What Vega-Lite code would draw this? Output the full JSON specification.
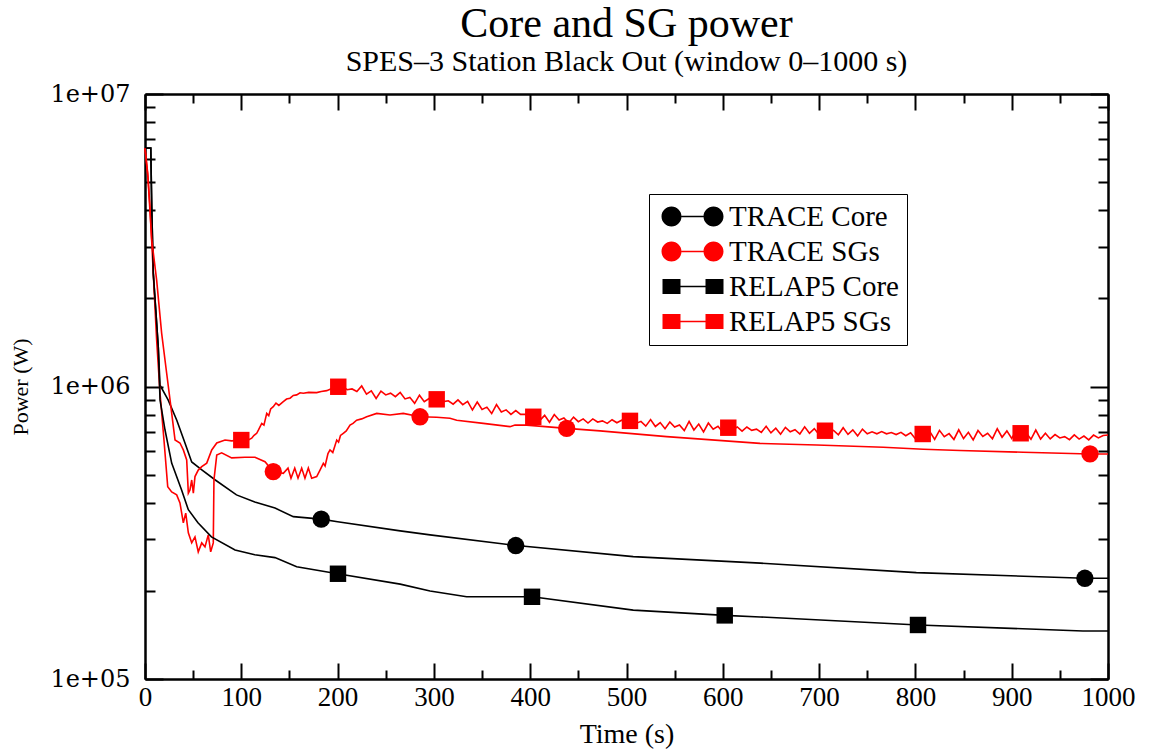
{
  "$schema": "https://vega.github.io/schema/vega-lite/v6.json",
  "width": 963,
  "height": 585,
  "autosize": {"type": "none"},
  "padding": {"left": 145, "top": 94, "right": 41, "bottom": 72},
  "background": "white",
  "title": {
    "text": "Core and SG power",
    "subtitle": "SPES–3 Station Black Out (window  0–1000 s)",
    "font": "Liberation Serif",
    "fontSize": 42,
    "fontWeight": "normal",
    "color": "black",
    "subtitleFont": "Liberation Serif",
    "subtitleFontSize": 30,
    "subtitleColor": "black",
    "subtitlePadding": 1,
    "anchor": "middle",
    "offset": 4
  },
  "config": {
    "view": {"stroke": null},
    "axis": {
      "domainColor": "black",
      "domainWidth": 2,
      "tickColor": "black",
      "tickWidth": 2,
      "grid": false,
      "labelFlush": false,
      "labelOverlap": false,
      "labelColor": "black",
      "titleColor": "black",
      "titleFontWeight": "normal"
    }
  },
  "datasets": {
    "trace_lines": [
      {"s": "TRACE Core", "t": 0, "p": 6530000},
      {"s": "TRACE Core", "t": 6, "p": 6530000},
      {"s": "TRACE Core", "t": 7, "p": 4110000},
      {"s": "TRACE Core", "t": 8.6, "p": 2440000},
      {"s": "TRACE Core", "t": 13.8, "p": 1360000},
      {"s": "TRACE Core", "t": 15.6, "p": 1010000},
      {"s": "TRACE Core", "t": 24, "p": 900000},
      {"s": "TRACE Core", "t": 33, "p": 767000},
      {"s": "TRACE Core", "t": 41.5, "p": 641000},
      {"s": "TRACE Core", "t": 48.5, "p": 552000},
      {"s": "TRACE Core", "t": 59, "p": 519000},
      {"s": "TRACE Core", "t": 73, "p": 479000},
      {"s": "TRACE Core", "t": 95, "p": 426000},
      {"s": "TRACE Core", "t": 114, "p": 403000},
      {"s": "TRACE Core", "t": 135, "p": 384000},
      {"s": "TRACE Core", "t": 154, "p": 359000},
      {"s": "TRACE Core", "t": 183, "p": 352000},
      {"s": "TRACE Core", "t": 200, "p": 345000},
      {"s": "TRACE Core", "t": 265, "p": 321000},
      {"s": "TRACE Core", "t": 296, "p": 311000},
      {"s": "TRACE Core", "t": 386, "p": 286000},
      {"s": "TRACE Core", "t": 507, "p": 262000},
      {"s": "TRACE Core", "t": 639, "p": 249000},
      {"s": "TRACE Core", "t": 801, "p": 231000},
      {"s": "TRACE Core", "t": 976, "p": 221000},
      {"s": "TRACE Core", "t": 1000, "p": 221000},
      {"s": "TRACE SGs", "t": 0, "p": 6530000},
      {"s": "TRACE SGs", "t": 2.8, "p": 5370000},
      {"s": "TRACE SGs", "t": 5.2, "p": 4110000},
      {"s": "TRACE SGs", "t": 8.6, "p": 2440000},
      {"s": "TRACE SGs", "t": 12.1, "p": 1440000},
      {"s": "TRACE SGs", "t": 15.6, "p": 950000},
      {"s": "TRACE SGs", "t": 19.7, "p": 656000},
      {"s": "TRACE SGs", "t": 23.6, "p": 454000},
      {"s": "TRACE SGs", "t": 27.7, "p": 436000},
      {"s": "TRACE SGs", "t": 32.9, "p": 426000},
      {"s": "TRACE SGs", "t": 36.3, "p": 400000},
      {"s": "TRACE SGs", "t": 39.8, "p": 342000},
      {"s": "TRACE SGs", "t": 42.3, "p": 369000},
      {"s": "TRACE SGs", "t": 45, "p": 316000},
      {"s": "TRACE SGs", "t": 48.5, "p": 292000},
      {"s": "TRACE SGs", "t": 51.9, "p": 306000},
      {"s": "TRACE SGs", "t": 55.3, "p": 272000},
      {"s": "TRACE SGs", "t": 58.9, "p": 292000},
      {"s": "TRACE SGs", "t": 62.3, "p": 283000},
      {"s": "TRACE SGs", "t": 65.7, "p": 311000},
      {"s": "TRACE SGs", "t": 68.2, "p": 272000},
      {"s": "TRACE SGs", "t": 70.9, "p": 292000},
      {"s": "TRACE SGs", "t": 71.6, "p": 479000},
      {"s": "TRACE SGs", "t": 74.5, "p": 583000},
      {"s": "TRACE SGs", "t": 79.6, "p": 593000},
      {"s": "TRACE SGs", "t": 90, "p": 570000},
      {"s": "TRACE SGs", "t": 103.8, "p": 573000},
      {"s": "TRACE SGs", "t": 114.2, "p": 573000},
      {"s": "TRACE SGs", "t": 124.6, "p": 553000},
      {"s": "TRACE SGs", "t": 133.2, "p": 512000},
      {"s": "TRACE SGs", "t": 143.6, "p": 505000},
      {"s": "TRACE SGs", "t": 148.5, "p": 526000},
      {"s": "TRACE SGs", "t": 151.6, "p": 486000},
      {"s": "TRACE SGs", "t": 155.5, "p": 526000},
      {"s": "TRACE SGs", "t": 158.9, "p": 486000},
      {"s": "TRACE SGs", "t": 162.7, "p": 526000},
      {"s": "TRACE SGs", "t": 166.1, "p": 486000},
      {"s": "TRACE SGs", "t": 169.6, "p": 526000},
      {"s": "TRACE SGs", "t": 173.1, "p": 486000},
      {"s": "TRACE SGs", "t": 178.3, "p": 492000},
      {"s": "TRACE SGs", "t": 182, "p": 520000},
      {"s": "TRACE SGs", "t": 185.2, "p": 546000},
      {"s": "TRACE SGs", "t": 187, "p": 535000},
      {"s": "TRACE SGs", "t": 190, "p": 590000},
      {"s": "TRACE SGs", "t": 192.1, "p": 607000},
      {"s": "TRACE SGs", "t": 195, "p": 595000},
      {"s": "TRACE SGs", "t": 199.1, "p": 656000},
      {"s": "TRACE SGs", "t": 201, "p": 645000},
      {"s": "TRACE SGs", "t": 203, "p": 680000},
      {"s": "TRACE SGs", "t": 205.9, "p": 692000},
      {"s": "TRACE SGs", "t": 209, "p": 705000},
      {"s": "TRACE SGs", "t": 212.9, "p": 738000},
      {"s": "TRACE SGs", "t": 216, "p": 748000},
      {"s": "TRACE SGs", "t": 219.8, "p": 767000},
      {"s": "TRACE SGs", "t": 225, "p": 775000},
      {"s": "TRACE SGs", "t": 230.2, "p": 788000},
      {"s": "TRACE SGs", "t": 240.6, "p": 809000},
      {"s": "TRACE SGs", "t": 254.4, "p": 799000},
      {"s": "TRACE SGs", "t": 268.2, "p": 809000},
      {"s": "TRACE SGs", "t": 285.6, "p": 788000},
      {"s": "TRACE SGs", "t": 302.9, "p": 785000},
      {"s": "TRACE SGs", "t": 316.7, "p": 779000},
      {"s": "TRACE SGs", "t": 323.7, "p": 767000},
      {"s": "TRACE SGs", "t": 351.3, "p": 748000},
      {"s": "TRACE SGs", "t": 379, "p": 729000},
      {"s": "TRACE SGs", "t": 384.2, "p": 738000},
      {"s": "TRACE SGs", "t": 396.4, "p": 738000},
      {"s": "TRACE SGs", "t": 437.9, "p": 719000},
      {"s": "TRACE SGs", "t": 472.5, "p": 705000},
      {"s": "TRACE SGs", "t": 541.7, "p": 674000},
      {"s": "TRACE SGs", "t": 638.6, "p": 639000},
      {"s": "TRACE SGs", "t": 697.5, "p": 631000},
      {"s": "TRACE SGs", "t": 766.7, "p": 620000},
      {"s": "TRACE SGs", "t": 808.2, "p": 610000},
      {"s": "TRACE SGs", "t": 846.3, "p": 604000},
      {"s": "TRACE SGs", "t": 912, "p": 596000},
      {"s": "TRACE SGs", "t": 981.3, "p": 588000},
      {"s": "TRACE SGs", "t": 1000, "p": 588000}
    ],
    "relap_lines": [
      {"s": "RELAP5 Core", "t": 0, "p": 6530000},
      {"s": "RELAP5 Core", "t": 6, "p": 6530000},
      {"s": "RELAP5 Core", "t": 7, "p": 4110000},
      {"s": "RELAP5 Core", "t": 8.6, "p": 2440000},
      {"s": "RELAP5 Core", "t": 13.8, "p": 1360000},
      {"s": "RELAP5 Core", "t": 15.6, "p": 900000},
      {"s": "RELAP5 Core", "t": 20.8, "p": 710000},
      {"s": "RELAP5 Core", "t": 27.7, "p": 547000},
      {"s": "RELAP5 Core", "t": 38, "p": 443000},
      {"s": "RELAP5 Core", "t": 45, "p": 379000},
      {"s": "RELAP5 Core", "t": 55, "p": 342000},
      {"s": "RELAP5 Core", "t": 69, "p": 306000},
      {"s": "RELAP5 Core", "t": 93.5, "p": 276000},
      {"s": "RELAP5 Core", "t": 114, "p": 266000},
      {"s": "RELAP5 Core", "t": 135, "p": 260000},
      {"s": "RELAP5 Core", "t": 157.5, "p": 242000},
      {"s": "RELAP5 Core", "t": 200, "p": 229000},
      {"s": "RELAP5 Core", "t": 265, "p": 211000},
      {"s": "RELAP5 Core", "t": 296, "p": 200000},
      {"s": "RELAP5 Core", "t": 334, "p": 191000},
      {"s": "RELAP5 Core", "t": 402, "p": 191000},
      {"s": "RELAP5 Core", "t": 507, "p": 172000},
      {"s": "RELAP5 Core", "t": 602, "p": 165000},
      {"s": "RELAP5 Core", "t": 639, "p": 163000},
      {"s": "RELAP5 Core", "t": 803, "p": 153000},
      {"s": "RELAP5 Core", "t": 974, "p": 146000},
      {"s": "RELAP5 Core", "t": 1000, "p": 146000},
      {"s": "RELAP5 SGs", "t": 0, "p": 6530000},
      {"s": "RELAP5 SGs", "t": 3, "p": 5200000},
      {"s": "RELAP5 SGs", "t": 7, "p": 3170000},
      {"s": "RELAP5 SGs", "t": 12.1, "p": 2310000},
      {"s": "RELAP5 SGs", "t": 17.3, "p": 1520000},
      {"s": "RELAP5 SGs", "t": 22.5, "p": 1110000},
      {"s": "RELAP5 SGs", "t": 26, "p": 900000},
      {"s": "RELAP5 SGs", "t": 27.7, "p": 811000},
      {"s": "RELAP5 SGs", "t": 31.2, "p": 656000},
      {"s": "RELAP5 SGs", "t": 36.3, "p": 641000},
      {"s": "RELAP5 SGs", "t": 39.8, "p": 607000},
      {"s": "RELAP5 SGs", "t": 43.3, "p": 561000},
      {"s": "RELAP5 SGs", "t": 45, "p": 432000},
      {"s": "RELAP5 SGs", "t": 46.7, "p": 443000},
      {"s": "RELAP5 SGs", "t": 48.5, "p": 479000},
      {"s": "RELAP5 SGs", "t": 50.2, "p": 432000},
      {"s": "RELAP5 SGs", "t": 51.9, "p": 492000},
      {"s": "RELAP5 SGs", "t": 55.3, "p": 518000},
      {"s": "RELAP5 SGs", "t": 58.9, "p": 532000},
      {"s": "RELAP5 SGs", "t": 64.1, "p": 547000},
      {"s": "RELAP5 SGs", "t": 69.3, "p": 607000},
      {"s": "RELAP5 SGs", "t": 74.5, "p": 641000},
      {"s": "RELAP5 SGs", "t": 83.1, "p": 656000},
      {"s": "RELAP5 SGs", "t": 90, "p": 652000},
      {"s": "RELAP5 SGs", "t": 100, "p": 656000},
      {"s": "RELAP5 SGs", "t": 105, "p": 650000},
      {"s": "RELAP5 SGs", "t": 110.8, "p": 666000},
      {"s": "RELAP5 SGs", "t": 113, "p": 680000},
      {"s": "RELAP5 SGs", "t": 116, "p": 692000},
      {"s": "RELAP5 SGs", "t": 118, "p": 712000},
      {"s": "RELAP5 SGs", "t": 121.2, "p": 748000},
      {"s": "RELAP5 SGs", "t": 123.5, "p": 738000},
      {"s": "RELAP5 SGs", "t": 126.4, "p": 809000},
      {"s": "RELAP5 SGs", "t": 128.5, "p": 795000},
      {"s": "RELAP5 SGs", "t": 130.5, "p": 838000},
      {"s": "RELAP5 SGs", "t": 133.2, "p": 853000},
      {"s": "RELAP5 SGs", "t": 136, "p": 878000},
      {"s": "RELAP5 SGs", "t": 139, "p": 862000},
      {"s": "RELAP5 SGs", "t": 143.6, "p": 887000},
      {"s": "RELAP5 SGs", "t": 147, "p": 906000},
      {"s": "RELAP5 SGs", "t": 150.6, "p": 912000},
      {"s": "RELAP5 SGs", "t": 154, "p": 932000},
      {"s": "RELAP5 SGs", "t": 157.5, "p": 936000},
      {"s": "RELAP5 SGs", "t": 161, "p": 952000},
      {"s": "RELAP5 SGs", "t": 164.4, "p": 948000},
      {"s": "RELAP5 SGs", "t": 170, "p": 955000},
      {"s": "RELAP5 SGs", "t": 178.3, "p": 953000},
      {"s": "RELAP5 SGs", "t": 183, "p": 962000},
      {"s": "RELAP5 SGs", "t": 188.7, "p": 968000},
      {"s": "RELAP5 SGs", "t": 194, "p": 984000},
      {"s": "RELAP5 SGs", "t": 200, "p": 998000},
      {"s": "RELAP5 SGs", "t": 205, "p": 1000000},
      {"s": "RELAP5 SGs", "t": 210, "p": 975000},
      {"s": "RELAP5 SGs", "t": 215, "p": 981000},
      {"s": "RELAP5 SGs", "t": 220, "p": 961000},
      {"s": "RELAP5 SGs", "t": 225, "p": 1004000},
      {"s": "RELAP5 SGs", "t": 230, "p": 941000},
      {"s": "RELAP5 SGs", "t": 235, "p": 966000},
      {"s": "RELAP5 SGs", "t": 240, "p": 910000},
      {"s": "RELAP5 SGs", "t": 245, "p": 964000},
      {"s": "RELAP5 SGs", "t": 250, "p": 936000},
      {"s": "RELAP5 SGs", "t": 255, "p": 949000},
      {"s": "RELAP5 SGs", "t": 260, "p": 923000},
      {"s": "RELAP5 SGs", "t": 265, "p": 954000},
      {"s": "RELAP5 SGs", "t": 270, "p": 907000},
      {"s": "RELAP5 SGs", "t": 275, "p": 918000},
      {"s": "RELAP5 SGs", "t": 280, "p": 876000},
      {"s": "RELAP5 SGs", "t": 285, "p": 934000},
      {"s": "RELAP5 SGs", "t": 290, "p": 887000},
      {"s": "RELAP5 SGs", "t": 295, "p": 910000},
      {"s": "RELAP5 SGs", "t": 300, "p": 885000},
      {"s": "RELAP5 SGs", "t": 305, "p": 913000},
      {"s": "RELAP5 SGs", "t": 310, "p": 888000},
      {"s": "RELAP5 SGs", "t": 315, "p": 894000},
      {"s": "RELAP5 SGs", "t": 320, "p": 870000},
      {"s": "RELAP5 SGs", "t": 325, "p": 900000},
      {"s": "RELAP5 SGs", "t": 330, "p": 867000},
      {"s": "RELAP5 SGs", "t": 335, "p": 889000},
      {"s": "RELAP5 SGs", "t": 340, "p": 831000},
      {"s": "RELAP5 SGs", "t": 345, "p": 885000},
      {"s": "RELAP5 SGs", "t": 350, "p": 835000},
      {"s": "RELAP5 SGs", "t": 355, "p": 850000},
      {"s": "RELAP5 SGs", "t": 360, "p": 808000},
      {"s": "RELAP5 SGs", "t": 365, "p": 867000},
      {"s": "RELAP5 SGs", "t": 370, "p": 818000},
      {"s": "RELAP5 SGs", "t": 375, "p": 832000},
      {"s": "RELAP5 SGs", "t": 380, "p": 803000},
      {"s": "RELAP5 SGs", "t": 385, "p": 827000},
      {"s": "RELAP5 SGs", "t": 390, "p": 803000},
      {"s": "RELAP5 SGs", "t": 395, "p": 804000},
      {"s": "RELAP5 SGs", "t": 400, "p": 779000},
      {"s": "RELAP5 SGs", "t": 405, "p": 817000},
      {"s": "RELAP5 SGs", "t": 410, "p": 766000},
      {"s": "RELAP5 SGs", "t": 415, "p": 797000},
      {"s": "RELAP5 SGs", "t": 420, "p": 755000},
      {"s": "RELAP5 SGs", "t": 425, "p": 802000},
      {"s": "RELAP5 SGs", "t": 430, "p": 768000},
      {"s": "RELAP5 SGs", "t": 435, "p": 781000},
      {"s": "RELAP5 SGs", "t": 440, "p": 750000},
      {"s": "RELAP5 SGs", "t": 445, "p": 786000},
      {"s": "RELAP5 SGs", "t": 450, "p": 758000},
      {"s": "RELAP5 SGs", "t": 455, "p": 775000},
      {"s": "RELAP5 SGs", "t": 460, "p": 750000},
      {"s": "RELAP5 SGs", "t": 465, "p": 775000},
      {"s": "RELAP5 SGs", "t": 470, "p": 756000},
      {"s": "RELAP5 SGs", "t": 475, "p": 763000},
      {"s": "RELAP5 SGs", "t": 480, "p": 748000},
      {"s": "RELAP5 SGs", "t": 485, "p": 770000},
      {"s": "RELAP5 SGs", "t": 490, "p": 752000},
      {"s": "RELAP5 SGs", "t": 495, "p": 767000},
      {"s": "RELAP5 SGs", "t": 500, "p": 751000},
      {"s": "RELAP5 SGs", "t": 505, "p": 778000},
      {"s": "RELAP5 SGs", "t": 510, "p": 748000},
      {"s": "RELAP5 SGs", "t": 515, "p": 760000},
      {"s": "RELAP5 SGs", "t": 520, "p": 732000},
      {"s": "RELAP5 SGs", "t": 525, "p": 771000},
      {"s": "RELAP5 SGs", "t": 530, "p": 730000},
      {"s": "RELAP5 SGs", "t": 535, "p": 753000},
      {"s": "RELAP5 SGs", "t": 540, "p": 717000},
      {"s": "RELAP5 SGs", "t": 545, "p": 756000},
      {"s": "RELAP5 SGs", "t": 550, "p": 727000},
      {"s": "RELAP5 SGs", "t": 555, "p": 739000},
      {"s": "RELAP5 SGs", "t": 560, "p": 707000},
      {"s": "RELAP5 SGs", "t": 565, "p": 760000},
      {"s": "RELAP5 SGs", "t": 570, "p": 710000},
      {"s": "RELAP5 SGs", "t": 575, "p": 744000},
      {"s": "RELAP5 SGs", "t": 580, "p": 699000},
      {"s": "RELAP5 SGs", "t": 585, "p": 750000},
      {"s": "RELAP5 SGs", "t": 590, "p": 714000},
      {"s": "RELAP5 SGs", "t": 595, "p": 731000},
      {"s": "RELAP5 SGs", "t": 600, "p": 698000},
      {"s": "RELAP5 SGs", "t": 605, "p": 737000},
      {"s": "RELAP5 SGs", "t": 610, "p": 712000},
      {"s": "RELAP5 SGs", "t": 615, "p": 727000},
      {"s": "RELAP5 SGs", "t": 620, "p": 704000},
      {"s": "RELAP5 SGs", "t": 625, "p": 727000},
      {"s": "RELAP5 SGs", "t": 630, "p": 708000},
      {"s": "RELAP5 SGs", "t": 635, "p": 715000},
      {"s": "RELAP5 SGs", "t": 640, "p": 697000},
      {"s": "RELAP5 SGs", "t": 645, "p": 731000},
      {"s": "RELAP5 SGs", "t": 650, "p": 694000},
      {"s": "RELAP5 SGs", "t": 655, "p": 720000},
      {"s": "RELAP5 SGs", "t": 660, "p": 687000},
      {"s": "RELAP5 SGs", "t": 665, "p": 725000},
      {"s": "RELAP5 SGs", "t": 670, "p": 700000},
      {"s": "RELAP5 SGs", "t": 675, "p": 712000},
      {"s": "RELAP5 SGs", "t": 680, "p": 688000},
      {"s": "RELAP5 SGs", "t": 685, "p": 728000},
      {"s": "RELAP5 SGs", "t": 690, "p": 692000},
      {"s": "RELAP5 SGs", "t": 695, "p": 718000},
      {"s": "RELAP5 SGs", "t": 700, "p": 685000},
      {"s": "RELAP5 SGs", "t": 705, "p": 723000},
      {"s": "RELAP5 SGs", "t": 710, "p": 697000},
      {"s": "RELAP5 SGs", "t": 715, "p": 708000},
      {"s": "RELAP5 SGs", "t": 720, "p": 684000},
      {"s": "RELAP5 SGs", "t": 725, "p": 723000},
      {"s": "RELAP5 SGs", "t": 730, "p": 686000},
      {"s": "RELAP5 SGs", "t": 735, "p": 711000},
      {"s": "RELAP5 SGs", "t": 740, "p": 678000},
      {"s": "RELAP5 SGs", "t": 745, "p": 715000},
      {"s": "RELAP5 SGs", "t": 750, "p": 689000},
      {"s": "RELAP5 SGs", "t": 755, "p": 700000},
      {"s": "RELAP5 SGs", "t": 760, "p": 689000},
      {"s": "RELAP5 SGs", "t": 765, "p": 701000},
      {"s": "RELAP5 SGs", "t": 770, "p": 689000},
      {"s": "RELAP5 SGs", "t": 775, "p": 696000},
      {"s": "RELAP5 SGs", "t": 780, "p": 685000},
      {"s": "RELAP5 SGs", "t": 785, "p": 697000},
      {"s": "RELAP5 SGs", "t": 790, "p": 679000},
      {"s": "RELAP5 SGs", "t": 795, "p": 695000},
      {"s": "RELAP5 SGs", "t": 800, "p": 663000},
      {"s": "RELAP5 SGs", "t": 805, "p": 716000},
      {"s": "RELAP5 SGs", "t": 810, "p": 669000},
      {"s": "RELAP5 SGs", "t": 815, "p": 701000},
      {"s": "RELAP5 SGs", "t": 820, "p": 659000},
      {"s": "RELAP5 SGs", "t": 825, "p": 708000},
      {"s": "RELAP5 SGs", "t": 830, "p": 674000},
      {"s": "RELAP5 SGs", "t": 835, "p": 690000},
      {"s": "RELAP5 SGs", "t": 840, "p": 659000},
      {"s": "RELAP5 SGs", "t": 845, "p": 711000},
      {"s": "RELAP5 SGs", "t": 850, "p": 664000},
      {"s": "RELAP5 SGs", "t": 855, "p": 697000},
      {"s": "RELAP5 SGs", "t": 860, "p": 657000},
      {"s": "RELAP5 SGs", "t": 865, "p": 707000},
      {"s": "RELAP5 SGs", "t": 870, "p": 675000},
      {"s": "RELAP5 SGs", "t": 875, "p": 692000},
      {"s": "RELAP5 SGs", "t": 880, "p": 663000},
      {"s": "RELAP5 SGs", "t": 885, "p": 717000},
      {"s": "RELAP5 SGs", "t": 890, "p": 671000},
      {"s": "RELAP5 SGs", "t": 895, "p": 705000},
      {"s": "RELAP5 SGs", "t": 900, "p": 664000},
      {"s": "RELAP5 SGs", "t": 905, "p": 713000},
      {"s": "RELAP5 SGs", "t": 910, "p": 679000},
      {"s": "RELAP5 SGs", "t": 915, "p": 694000},
      {"s": "RELAP5 SGs", "t": 920, "p": 660000},
      {"s": "RELAP5 SGs", "t": 925, "p": 710000},
      {"s": "RELAP5 SGs", "t": 930, "p": 661000},
      {"s": "RELAP5 SGs", "t": 935, "p": 692000},
      {"s": "RELAP5 SGs", "t": 940, "p": 662000},
      {"s": "RELAP5 SGs", "t": 945, "p": 685000},
      {"s": "RELAP5 SGs", "t": 950, "p": 667000},
      {"s": "RELAP5 SGs", "t": 955, "p": 674000},
      {"s": "RELAP5 SGs", "t": 960, "p": 658000},
      {"s": "RELAP5 SGs", "t": 965, "p": 683000},
      {"s": "RELAP5 SGs", "t": 970, "p": 661000},
      {"s": "RELAP5 SGs", "t": 975, "p": 677000},
      {"s": "RELAP5 SGs", "t": 980, "p": 657000},
      {"s": "RELAP5 SGs", "t": 985, "p": 682000},
      {"s": "RELAP5 SGs", "t": 990, "p": 667000},
      {"s": "RELAP5 SGs", "t": 995, "p": 680000},
      {"s": "RELAP5 SGs", "t": 1000, "p": 683000}
    ],
    "trace_marks": [
      {"s": "TRACE Core", "t": 183, "p": 352000},
      {"s": "TRACE Core", "t": 385, "p": 286000},
      {"s": "TRACE Core", "t": 976, "p": 221000},
      {"s": "TRACE SGs", "t": 133.2, "p": 512000},
      {"s": "TRACE SGs", "t": 285.6, "p": 788000},
      {"s": "TRACE SGs", "t": 437.9, "p": 719000},
      {"s": "TRACE SGs", "t": 981.3, "p": 588000}
    ],
    "relap_marks": [
      {"s": "RELAP5 Core", "t": 200.4, "p": 229000},
      {"s": "RELAP5 Core", "t": 401.9, "p": 191000},
      {"s": "RELAP5 Core", "t": 602, "p": 165000},
      {"s": "RELAP5 Core", "t": 802.7, "p": 153000},
      {"s": "RELAP5 SGs", "t": 100, "p": 656000},
      {"s": "RELAP5 SGs", "t": 200.7, "p": 998000},
      {"s": "RELAP5 SGs", "t": 302.9, "p": 904000},
      {"s": "RELAP5 SGs", "t": 403.2, "p": 788000},
      {"s": "RELAP5 SGs", "t": 503.6, "p": 763000},
      {"s": "RELAP5 SGs", "t": 605.7, "p": 723000},
      {"s": "RELAP5 SGs", "t": 706.1, "p": 706000},
      {"s": "RELAP5 SGs", "t": 807.6, "p": 688000},
      {"s": "RELAP5 SGs", "t": 909.3, "p": 692000}
    ]
  },
  "resolve": {"axis": {"x": "independent", "y": "independent"}},
  "layer": [
    {
      "data": {"values": []},
      "mark": {"type": "point", "filled": true, "opacity": 1},
      "encoding": {
        "x": {"field": "t", "type": "quantitative", "axis": null},
        "y": {"field": "p", "type": "quantitative", "axis": null},
        "color": {
          "field": "s", "type": "nominal",
          "scale": {"domain": ["TRACE Core", "TRACE SGs", "RELAP5 Core", "RELAP5 SGs"], "range": ["black", "red", "black", "red"]},
          "legend": {
            "orient": "none",
            "legendX": 504,
            "legendY": 100,
            "title": null,
            "labelFont": "Liberation Serif",
            "labelFontSize": 29,
            "labelColor": "black",
            "labelOffset": 43,
            "labelLimit": 400,
            "symbolSize": 400,
            "symbolOpacity": 1,
            "symbolStrokeWidth": 0,
            "rowPadding": 5,
            "padding": 8,
            "strokeColor": "black",
            "fillColor": "white"
          }
        },
        "shape": {
          "field": "s", "type": "nominal",
          "scale": {
            "domain": ["TRACE Core", "TRACE SGs", "RELAP5 Core", "RELAP5 SGs"],
            "range": [
              "M -1 0 A 1 1 0 1 0 1 0 A 1 1 0 1 0 -1 0 Z M 1 -0.08 L 3.2 -0.08 L 3.2 0.08 L 1 0.08 Z M 3.2 0 A 1 1 0 1 0 5.2 0 A 1 1 0 1 0 3.2 0 Z",
              "M -1 0 A 1 1 0 1 0 1 0 A 1 1 0 1 0 -1 0 Z M 1 -0.08 L 3.2 -0.08 L 3.2 0.08 L 1 0.08 Z M 3.2 0 A 1 1 0 1 0 5.2 0 A 1 1 0 1 0 3.2 0 Z",
              "M -0.9 -0.75 L 0.9 -0.75 L 0.9 0.75 L -0.9 0.75 Z M 0.9 -0.08 L 3.4 -0.08 L 3.4 0.08 L 0.9 0.08 Z M 3.4 -0.75 L 5.2 -0.75 L 5.2 0.75 L 3.4 0.75 Z",
              "M -0.9 -0.75 L 0.9 -0.75 L 0.9 0.75 L -0.9 0.75 Z M 0.9 -0.08 L 3.4 -0.08 L 3.4 0.08 L 0.9 0.08 Z M 3.4 -0.75 L 5.2 -0.75 L 5.2 0.75 L 3.4 0.75 Z"
            ]
          },
          "legend": {
            "orient": "none",
            "legendX": 504,
            "legendY": 100,
            "title": null,
            "labelFont": "Liberation Serif",
            "labelFontSize": 29,
            "labelColor": "black",
            "labelOffset": 43,
            "labelLimit": 400,
            "symbolSize": 400,
            "symbolOpacity": 1,
            "symbolStrokeWidth": 0,
            "rowPadding": 5,
            "padding": 8,
            "strokeColor": "black",
            "fillColor": "white"
          }
        }
      }
    },
    {
      "data": {"name": "trace_lines"},
      "mark": {"type": "line", "strokeWidth": 1.6},
      "encoding": {
        "x": {
          "field": "t", "type": "quantitative",
          "scale": {"domain": [0, 1000], "nice": false, "zero": false},
          "axis": {
            "orient": "bottom",
            "values": [0, 100, 200, 300, 400, 500, 600, 700, 800, 900, 1000],
            "format": "d",
            "tickSize": -16,
            "labelPadding": 21,
            "labelFont": "Liberation Serif",
            "labelFontSize": 27,
            "title": "Time (s)",
            "titleFont": "Liberation Serif",
            "titleFontSize": 28,
            "titlePadding": 10
          }
        },
        "y": {
          "field": "p", "type": "quantitative",
          "scale": {"type": "log", "domain": [100000, 10000000], "nice": false},
          "axis": {
            "orient": "left",
            "values": [100000, 1000000, 10000000],
            "tickSize": -18,
            "labelPadding": 33,
            "labelFont": "DejaVu Serif",
            "labelFontSize": 24,
            "labelExpr": "datum.value >= 5000000 ? '1e+07' : datum.value >= 500000 ? '1e+06' : '1e+05'",
            "title": "Power (W)",
            "titleFont": "Liberation Serif",
            "titleFontSize": 22,
            "titlePadding": 17
          }
        },
        "color": {"field": "s", "type": "nominal"}
      }
    },
    {
      "data": {"name": "relap_lines"},
      "mark": {"type": "line", "strokeWidth": 1.6},
      "encoding": {
        "x": {
          "field": "t", "type": "quantitative",
          "axis": {
            "orient": "bottom",
            "values": [50, 150, 250, 350, 450, 550, 650, 750, 850, 950],
            "tickSize": -9,
            "labels": false,
            "title": null
          }
        },
        "y": {
          "field": "p", "type": "quantitative",
          "axis": {
            "orient": "left",
            "values": [200000, 300000, 400000, 500000, 600000, 700000, 800000, 900000, 2000000, 3000000, 4000000, 5000000, 6000000, 7000000, 8000000, 9000000],
            "tickSize": -10,
            "labels": false,
            "title": null
          }
        },
        "color": {"field": "s", "type": "nominal"}
      }
    },
    {
      "data": {"name": "trace_marks"},
      "mark": {"type": "point", "shape": "circle", "filled": true, "size": 300, "opacity": 1},
      "encoding": {
        "x": {
          "field": "t", "type": "quantitative",
          "axis": {
            "orient": "top",
            "values": [0, 100, 200, 300, 400, 500, 600, 700, 800, 900, 1000],
            "tickSize": -16,
            "labels": false,
            "title": null
          }
        },
        "y": {
          "field": "p", "type": "quantitative",
          "axis": {
            "orient": "right",
            "values": [100000, 1000000, 10000000],
            "tickSize": -18,
            "labels": false,
            "title": null
          }
        },
        "color": {"field": "s", "type": "nominal"}
      }
    },
    {
      "data": {"name": "relap_marks"},
      "mark": {"type": "point", "shape": "square", "filled": true, "size": 270, "opacity": 1},
      "encoding": {
        "x": {
          "field": "t", "type": "quantitative",
          "axis": {
            "orient": "top",
            "values": [50, 150, 250, 350, 450, 550, 650, 750, 850, 950],
            "tickSize": -9,
            "labels": false,
            "title": null
          }
        },
        "y": {
          "field": "p", "type": "quantitative",
          "axis": {
            "orient": "right",
            "values": [200000, 300000, 400000, 500000, 600000, 700000, 800000, 900000, 2000000, 3000000, 4000000, 5000000, 6000000, 7000000, 8000000, 9000000],
            "tickSize": -10,
            "labels": false,
            "title": null
          }
        },
        "color": {"field": "s", "type": "nominal"}
      }
    }
  ]
}
